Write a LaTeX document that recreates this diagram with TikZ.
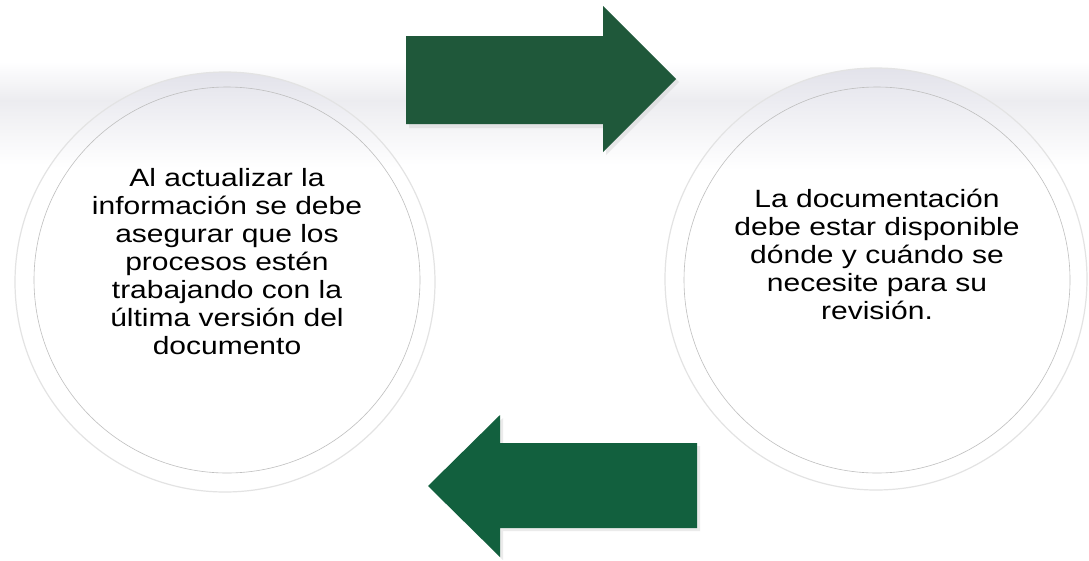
\documentclass[tikz,border=0pt]{standalone}
\usepackage{fontspec}
\setmainfont[FakeStretch=1.2]{Liberation Sans}
\definecolor{topgreen}{RGB}{31,88,58}
\definecolor{botgreen}{RGB}{18,96,62}
\definecolor{bandgrey}{RGB}{236,236,240}
\definecolor{capgrey}{RGB}{226,226,234}
\begin{document}
\begin{tikzpicture}[x=1pt,y=-1pt,
  outerring/.style={draw=gray!22, line width=1.2pt},
  innerring/.style={circle, draw=gray!50, line width=0.6pt, minimum size=386pt, inner sep=0pt},
  txt/.style={font=\fontsize{25}{28}\selectfont, align=center, text=black},
  arrowshadow/.style={fill=black!25, opacity=0.3},
]
\useasboundingbox (0,0) rectangle (1089,560);
\fill[white] (0,0) rectangle (1089,560);
% faint background band
\shade[top color=white, bottom color=bandgrey] (0,62) rectangle (1089,100);
\shade[top color=bandgrey, bottom color=white] (0,100) rectangle (1089,165);

% left circle
\fill[white] (225,282) circle (210);
\begin{scope}
  \clip (225,282) circle (210);
  \shade[top color=capgrey, bottom color=white] (0,70) rectangle (450,168);
\end{scope}
\draw[outerring] (225,282) circle (210);
\node[innerring] (L) at (227,280) {};
\node[txt] (Ltext) at (227,262) {Al actualizar la\\información se debe\\asegurar que los\\procesos estén\\trabajando con la\\última versión del\\documento};

% right circle
\fill[white] (876,279) circle (211);
\begin{scope}
  \clip (876,279) circle (211);
  \shade[top color=capgrey, bottom color=white] (640,66) rectangle (1089,170);
\end{scope}
\draw[outerring] (876,279) circle (211);
\node[innerring] (R) at (877,280) {};
\node[txt] (Rtext) at (877,254) {La documentación\\debe estar disponible\\dónde y cuándo se\\necesite para su\\revisión.};

% top arrow (right)
\fill[arrowshadow] (409,39) -- (606,39) -- (606,9) -- (679,82) -- (606,155) -- (606,128) -- (409,128) -- cycle;
\fill[topgreen] (406,36) -- (603,36) -- (603,6) -- (676,79) -- (603,152) -- (603,124) -- (406,124) -- cycle;

% bottom arrow (left)
\fill[arrowshadow] (431,489) -- (503,418) -- (503,446) -- (700,446) -- (700,531) -- (503,531) -- (503,560) -- cycle;
\fill[botgreen] (428,486) -- (500,415) -- (500,443) -- (697,443) -- (697,528) -- (500,528) -- (500,557) -- cycle;
\end{tikzpicture}
\end{document}
